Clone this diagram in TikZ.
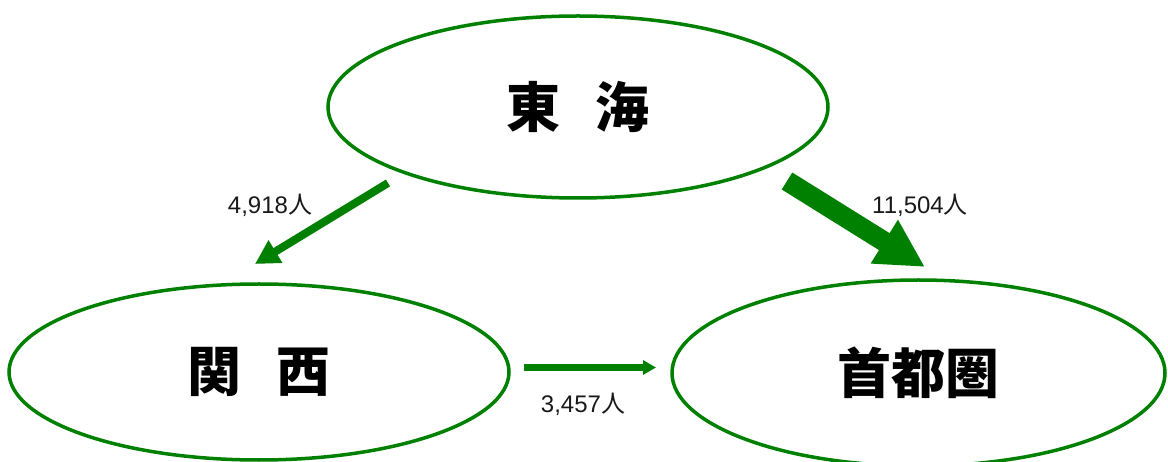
\documentclass[tikz,border=0pt]{standalone}
\usepackage{fontspec}
\setmainfont{Liberation Sans}
\newfontfamily\cjk{Noto Sans CJK JP}
\usetikzlibrary{arrows.meta,shapes.geometric}
\definecolor{grn}{RGB}{0,128,0}
\begin{document}
\begin{tikzpicture}[x=1pt,y=-1pt,
  region/.style={ellipse,draw=grn,line width=3.5pt,inner sep=0pt,
    font=\cjk\bfseries\fontsize{54}{60}\selectfont},
  flow/.style={draw=grn,line cap=butt},
  lbl/.style={font=\fontsize{24}{28}\selectfont,text=black!90,inner sep=0pt}]
\path[use as bounding box] (0,0) rectangle (1168,462);
\node[region,minimum width=500pt,minimum height=182pt] (tokai) at (578,107) {東\hspace{35pt}海};
\node[region,minimum width=500pt,minimum height=176pt] (kansai) at (259,372) {関\hspace{35pt}西};
\node[region,minimum width=493pt,minimum height=186pt] (shuto) at (918.5,373) {首都圏};
\coordinate (a1s) at (388,183);
\coordinate (a1e) at (255,264);
\coordinate (a2s) at (787,181);
\coordinate (a2e) at (925,267);
\coordinate (a3s) at (524,367.5);
\coordinate (a3e) at (656,367.5);
\draw[flow,line width=8pt,-{Triangle[length=24pt,width=25pt]}] (a1s) -- (a1e);
\draw[flow,line width=20pt,-{Triangle[length=48pt,width=48pt]}] (a2s) -- (a2e);
\draw[flow,line width=6.5pt,-{Triangle[length=13pt,width=14pt]}] (a3s) -- (a3e);
\node[lbl] (l1) at (270,205) {4,918{\cjk 人}};
\node[lbl] (l2) at (920,205) {11,504{\cjk 人}};
\node[lbl] (l3) at (583,404) {3,457{\cjk 人}};
\end{tikzpicture}
\end{document}
